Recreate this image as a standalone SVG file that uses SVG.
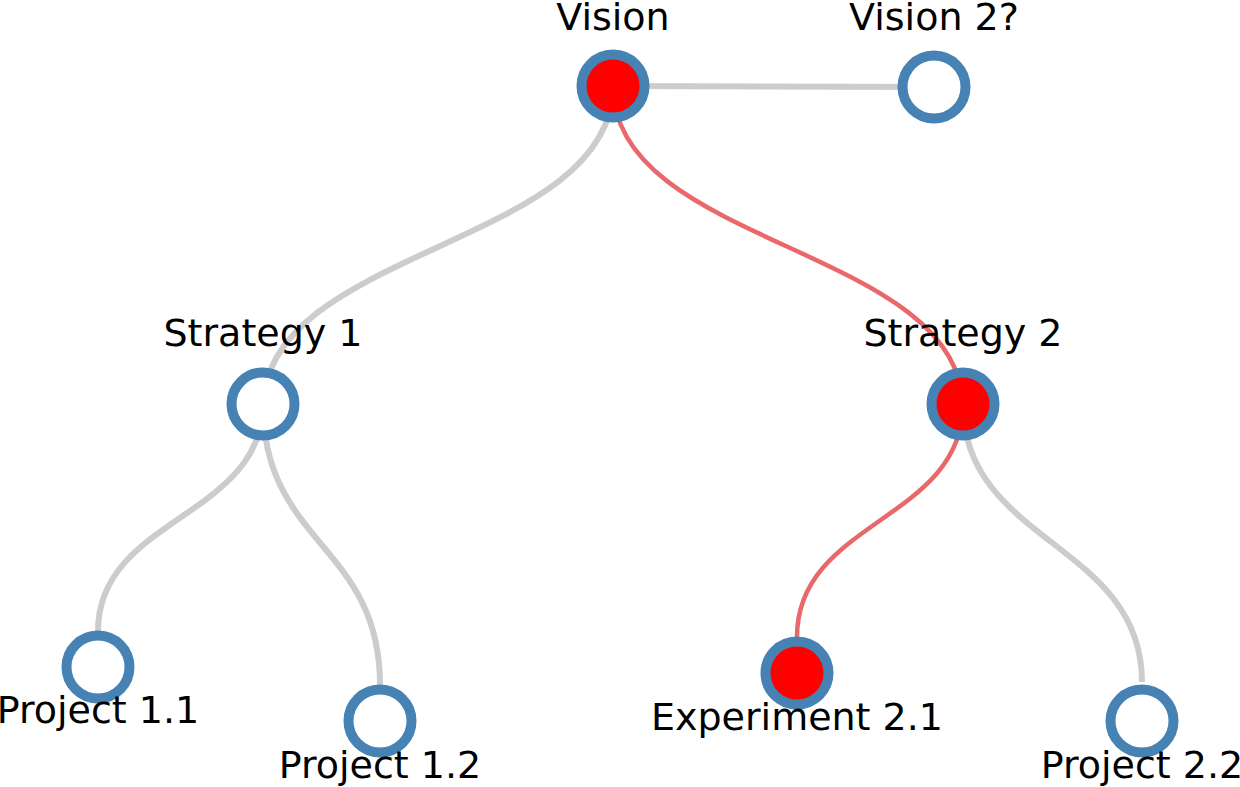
<svg xmlns="http://www.w3.org/2000/svg" width="1240" height="787" viewBox="0 0 1240 787">
<style>
.link{fill:none;stroke:#cccccc;stroke-width:6}
.link.hot{stroke:#e8686c;stroke-width:4.5}
.node circle{stroke:#4682b4;stroke-width:10;fill:#ffffff}
.node.hot circle{fill:#ff0000}
.node text{font-family:"DejaVu Sans",sans-serif;font-size:38px;fill:#000;text-anchor:middle}
</style>
<rect width="1240" height="787" fill="#ffffff"/>
<g id="links">
<path class="link" d="M613,86 L934,87"/>
<path class="link" d="M613,86 C613,247 263,247 263,408"/>
<path class="link hot" d="M613,86 C613,247 963,247 963,408"/>
<path class="link" d="M263,404 C263,517.5 98,517.5 98,631"/>
<path class="link" d="M263,404 C263,544.5 380,544.5 380,685"/>
<path class="link hot" d="M963,404 C963,520.5 797,520.5 797,637"/>
<path class="link" d="M963,404 C963,543 1142,543 1142,682"/>
</g>
<g id="vision" class="node hot"><circle cx="613" cy="86" r="31.5"/><text x="613" y="30">Vision</text></g>
<g id="vision2" class="node"><circle cx="934" cy="87" r="31.5"/><text x="934" y="30">Vision 2?</text></g>
<g id="strategy1" class="node"><circle cx="263" cy="404" r="31.5"/><text x="263" y="346">Strategy 1</text></g>
<g id="strategy2" class="node hot"><circle cx="963" cy="404" r="31.5"/><text x="963" y="346">Strategy 2</text></g>
<g id="project11" class="node"><circle cx="98" cy="667" r="31.5"/><text x="98" y="723">Project 1.1</text></g>
<g id="project12" class="node"><circle cx="380" cy="721" r="31.5"/><text x="380" y="778">Project 1.2</text></g>
<g id="experiment21" class="node hot"><circle cx="797" cy="673" r="31.5"/><text x="797" y="730">Experiment 2.1</text></g>
<g id="project22" class="node"><circle cx="1142" cy="721" r="31.5"/><text x="1142" y="778">Project 2.2</text></g>
</svg>
